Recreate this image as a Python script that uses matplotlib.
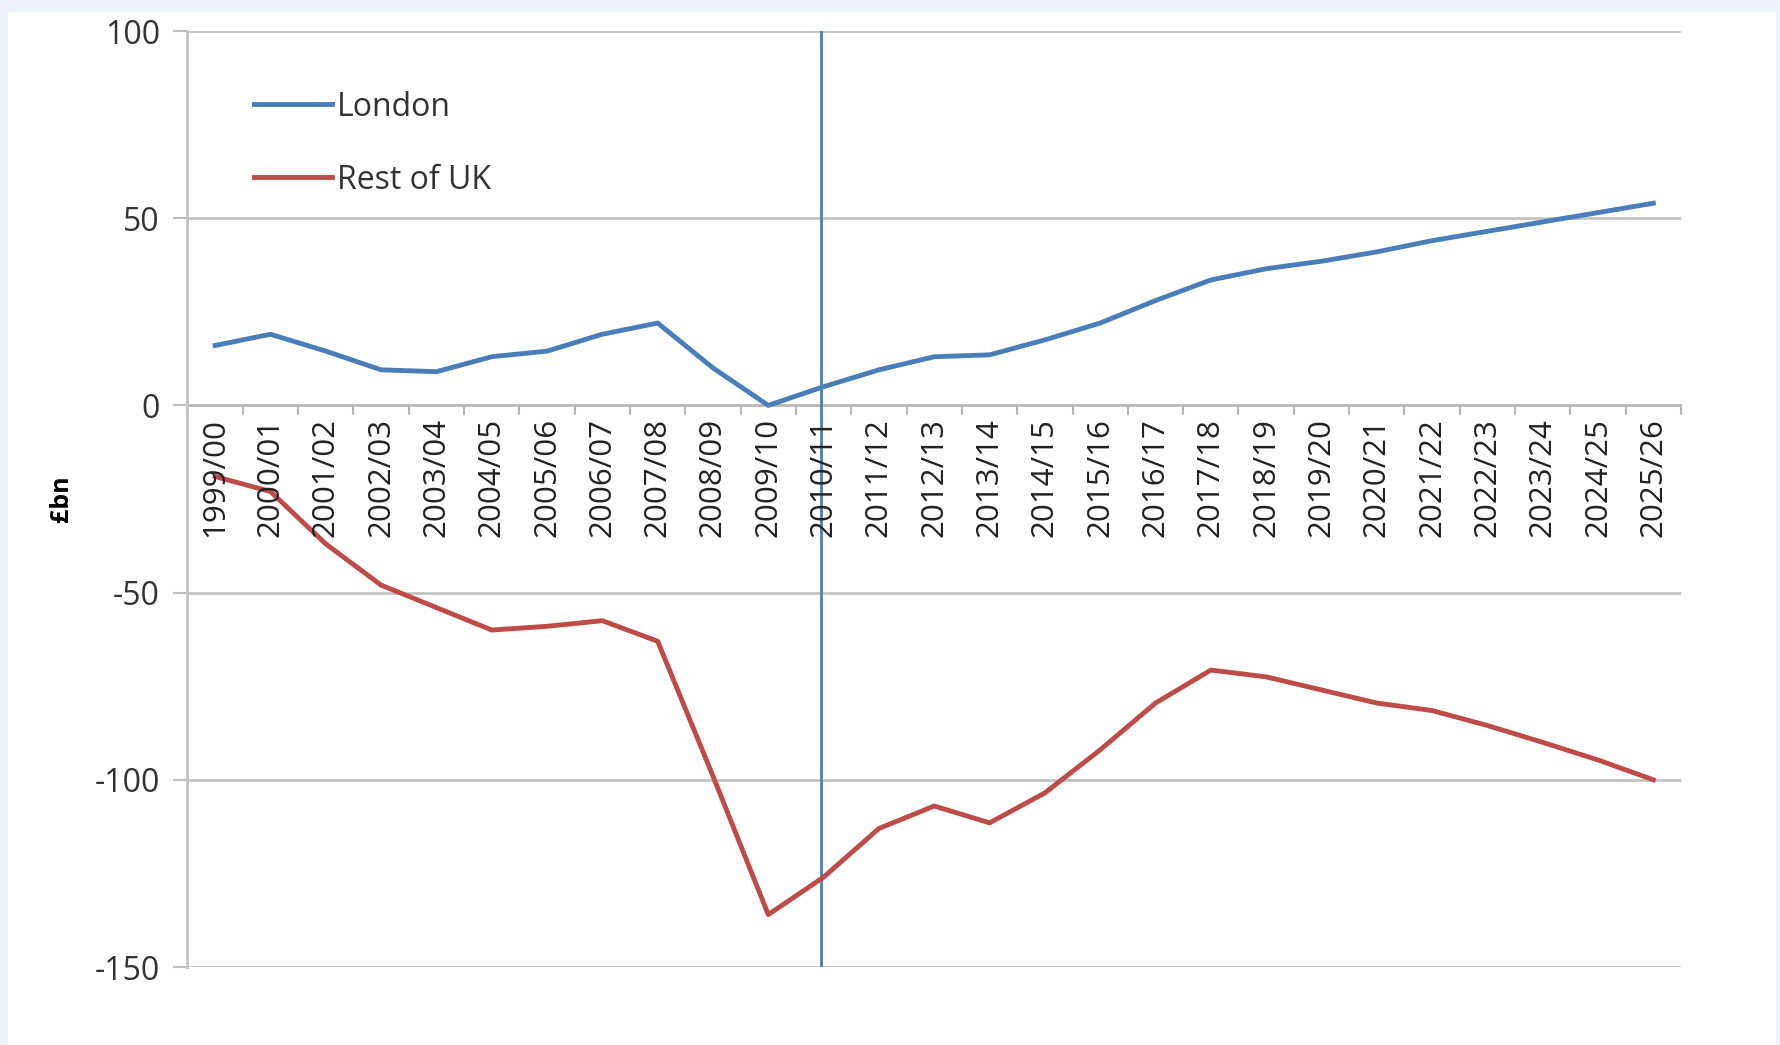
import matplotlib
matplotlib.use("Agg")
import matplotlib.pyplot as plt
from matplotlib.patches import Rectangle

years = ["1999/00", "2000/01", "2001/02", "2002/03", "2003/04", "2004/05", "2005/06",
         "2006/07", "2007/08", "2008/09", "2009/10", "2010/11", "2011/12", "2012/13",
         "2013/14", "2014/15", "2015/16", "2016/17", "2017/18", "2018/19", "2019/20",
         "2020/21", "2021/22", "2022/23", "2023/24", "2024/25", "2025/26"]
london = [16, 19, 14.5, 9.5, 9, 13, 14.5, 19, 22, 10, 0, 5, 9.5, 13, 13.5, 17.5,
          22, 28, 33.5, 36.5, 38.5, 41, 44, 46.5, 49, 51.5, 54]
rest_of_uk = [-19, -23, -37, -48, -54, -60, -59, -57.5, -63, -99, -136, -126, -113,
              -107, -111.5, -103.5, -92, -79.5, -70.7, -72.5, -76, -79.5, -81.5,
              -85.5, -90, -94.7, -100]
yticks = [100, 50, 0, -50, -100, -150]
marker_year = "2010/11"

FONT = ["Open Sans", "DejaVu Sans"]
plt.rcParams["font.family"] = FONT

W, H = 1781, 1045
fig = plt.figure(figsize=(W / 100, H / 100), dpi=100, facecolor="#edf2f9")
fig.patches.append(Rectangle((8 / W, 0), (1776 - 8) / W, (H - 12) / H,
                             transform=fig.transFigure, facecolor="white",
                             edgecolor="none", zorder=-5))

left, right, top, bottom = 187.5, 1681, 31, 967
ax = fig.add_axes([left / W, 1 - bottom / H, (right - left) / W, (bottom - top) / H])
ax.set_facecolor("none")
ax.set_zorder(2)

x = list(range(len(years)))
ax.plot(x, london, color="#4a7ebb", lw=3.5, label="London", zorder=3)
ax.plot(x, rest_of_uk, color="#be4b48", lw=3.5, label="Rest of UK", zorder=3)
ax.axvline(years.index(marker_year) - 0.05, color="#4a7ebb", lw=2, zorder=2)

ax.set_xlim(-0.5, len(years) - 0.5)
ax.set_ylim(-150, 100)
ax.set_yticks(yticks)
ax.set_yticklabels([str(v) for v in yticks], fontsize=23, color="#333333")
ax.tick_params(axis="y", length=10, color="#bfbfbf", width=1.5, pad=10)
for v in yticks:
    if v != 0:
        ax.axhline(v, color="#c4c4c4", lw=2, zorder=1)

# category axis at zero
ax.axhline(0, color="#b8b8b8", lw=2, zorder=1)
ax.set_xticks([])
for i in range(len(years) + 1):
    ax.plot([i - 0.5, i - 0.5], [0, -2.3], color="#b8b8b8", lw=1.5, zorder=1,
            clip_on=False)
for i, lab in enumerate(years):
    ax.text(i, -3.4, lab, rotation=90, ha="center", va="top", fontsize=22.5,
            color="#222222", zorder=4)

for s in ["top", "right", "bottom"]:
    ax.spines[s].set_visible(False)
ax.spines["left"].set_color("#c4c4c4")
ax.spines["left"].set_linewidth(2)

ax.set_ylabel("£bn", fontsize=18, fontweight="bold", labelpad=15)

leg = ax.legend(loc="upper left", bbox_to_anchor=(0.036, 0.95), frameon=False,
                fontsize=23, handlelength=2.45, handletextpad=0.15,
                labelspacing=1.25, borderaxespad=0)
for t in leg.get_texts():
    t.set_color("#333333")

fig.savefig("out.png", dpi=100, facecolor=fig.get_facecolor())
